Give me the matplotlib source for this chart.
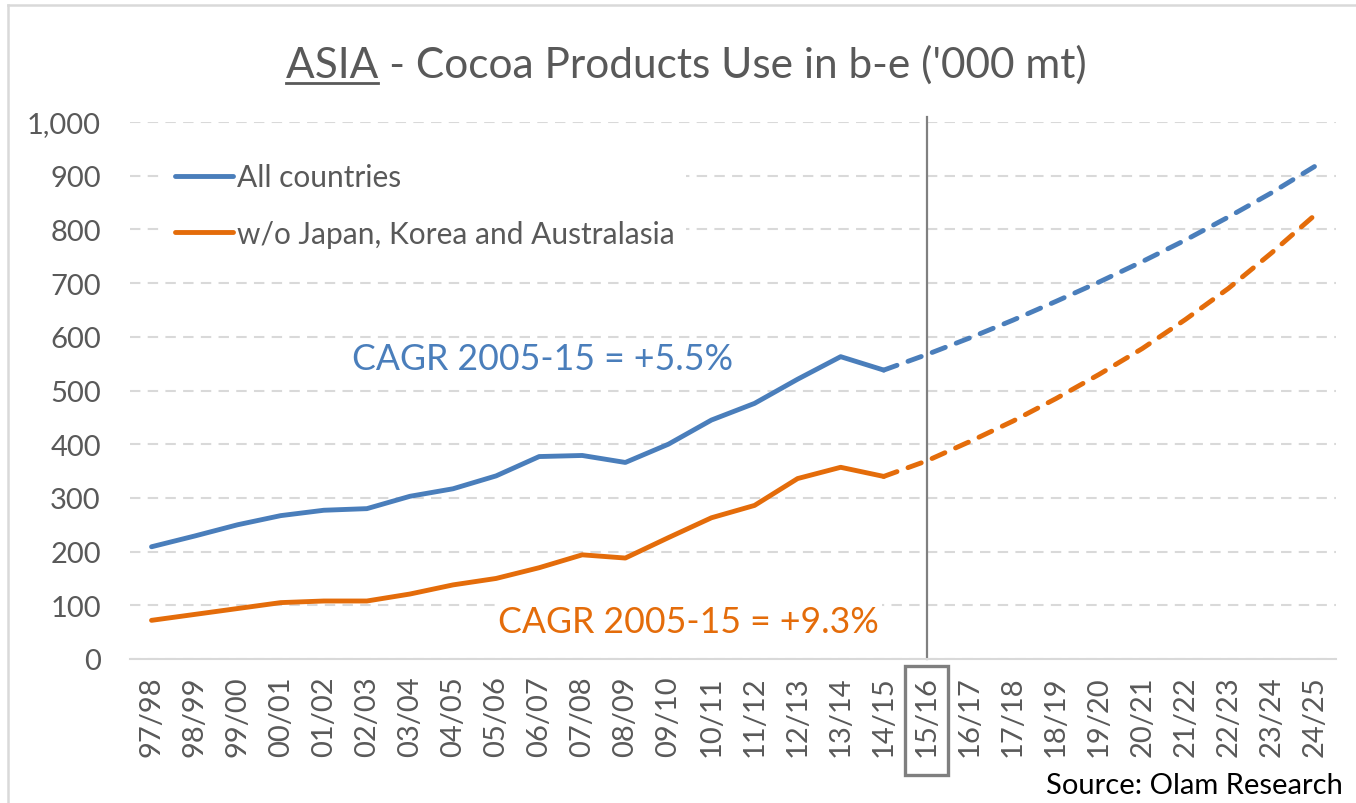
import matplotlib
matplotlib.use("Agg")
import matplotlib.pyplot as plt
from matplotlib.patches import Rectangle
from matplotlib.lines import Line2D

# --- data ---
seasons = ["97/98", "98/99", "99/00", "00/01", "01/02", "02/03", "03/04", "04/05",
           "05/06", "06/07", "07/08", "08/09", "09/10", "10/11", "11/12", "12/13",
           "13/14", "14/15", "15/16", "16/17", "17/18", "18/19", "19/20", "20/21",
           "21/22", "22/23", "23/24", "24/25"]
all_countries = [209, 229, 250, 267, 277, 280, 303, 317, 341, 377, 379, 366, 400, 445,
                 476, 521, 563, 538, 567, 598, 631, 666, 702, 740, 780, 823, 868, 917]
without_jka = [72, 83, 94, 105, 108, 108, 121, 138, 150, 170, 194, 188, 226, 263,
               286, 336, 357, 340, 369, 405, 443, 485, 530, 578, 632, 690, 756, 826]
last_actual = "14/15"
marked_season = "15/16"
yticks = [0, 100, 200, 300, 400, 500, 600, 700, 800, 900, 1000]

BLUE = "#4a7ebb"
ORANGE = "#e46c0a"
GREY_TXT = "#595959"
FONT = "Lato"
LW = 3.5

plt.rcParams["font.family"] = [FONT, "DejaVu Sans"]

fig = plt.figure(figsize=(13.56, 8.04), dpi=100)
W, H = 1356, 804
ax = fig.add_axes([130 / W, 1 - 660 / H, 1206 / W, 537 / H])

x = list(range(len(seasons)))
split = seasons.index(last_actual)

# solid history, dashed forecast
ax.plot(x[:split + 1], all_countries[:split + 1], color=BLUE, lw=LW,
        solid_capstyle="round", solid_joinstyle="round", label="All countries", zorder=3)
ax.plot(x[split:], all_countries[split:], color=BLUE, lw=LW, ls=(0, (2.9, 2.4)),
        dash_capstyle="round", zorder=3)
ax.plot(x[:split + 1], without_jka[:split + 1], color=ORANGE, lw=LW,
        solid_capstyle="round", solid_joinstyle="round",
        label="w/o Japan, Korea and Australasia", zorder=3)
ax.plot(x[split:], without_jka[split:], color=ORANGE, lw=LW, ls=(0, (2.9, 2.4)),
        dash_capstyle="round", zorder=3)

ax.set_xlim(-0.5, len(seasons) - 0.5)
ax.set_ylim(0, 1000)
ax.set_yticks(yticks)
ax.set_yticklabels([f"{v:,}" for v in yticks])
ax.set_xticks(x)
ax.set_xticklabels(seasons, rotation=90)
ax.tick_params(axis="both", length=0, labelsize=21, colors=GREY_TXT)
ax.tick_params(axis="y", pad=21)
ax.tick_params(axis="x", pad=11.5)

for s in ["top", "right", "left"]:
    ax.spines[s].set_visible(False)
ax.spines["bottom"].set_color("#d9d9d9")
ax.spines["bottom"].set_linewidth(1.5)

ax.yaxis.grid(True, color="#d9d9d9", lw=1.5, ls=(0, (5, 3.5)))
ax.set_axisbelow(True)

# forecast start marker
xm = seasons.index(marked_season)
ax.axvline(xm, ymin=0, ymax=1.01, color="#808080", lw=1.6, clip_on=False, zorder=2)
ax.add_patch(Rectangle((xm - 0.5, -0.216), 1.0, 0.203,
                       transform=ax.get_xaxis_transform(), fill=False,
                       edgecolor="#7f7f7f", lw=2.4, clip_on=False))

leg = ax.legend(loc="upper left", bbox_to_anchor=(0.027, 0.945), frameon=True,
                fontsize=21.5, handlelength=1.95, handletextpad=0.13, labelspacing=0.95,
                borderpad=0.4, borderaxespad=0)
leg.get_frame().set_facecolor("white")
leg.get_frame().set_edgecolor("none")
leg.get_frame().set_alpha(1)
for t in leg.get_texts():
    t.set_color(GREY_TXT)

ax.text(4.65, 559, "CAGR 2005-15 = +5.5%", color=BLUE, fontsize=25.7, va="center",
        ha="left", bbox=dict(facecolor="white", edgecolor="none", pad=2))
ax.text(8.05, 69, "CAGR 2005-15 = +9.3%", color=ORANGE, fontsize=25.7, va="center",
        ha="left", bbox=dict(facecolor="white", edgecolor="none", pad=2))

# title with underlined ASIA
title_y = 1 - 78 / H
title = fig.text(686 / W, title_y, "ASIA - Cocoa Products Use in b-e ('000 mt)",
                 ha="center", va="baseline", fontsize=30.5, color=GREY_TXT)
fig.canvas.draw()
r = fig.canvas.get_renderer()
bb = title.get_window_extent(r)
tmp = fig.text(0, 0, "ASIA", fontsize=30.5)
w_asia = tmp.get_window_extent(r).width
tmp.remove()
fig.add_artist(Line2D([bb.x0 / W, (bb.x0 + w_asia) / W], [1 - 84 / H, 1 - 84 / H],
                      color=GREY_TXT, lw=2))

fig.text(1343 / W, 1 - 786 / H, "Source: Olam Research", ha="right", va="center",
         fontsize=21, color="black")

# chart frame
fig.add_artist(Line2D([8 / W, 8 / W], [0, 1 - 6 / H], color="#d9d9d9", lw=1.8))
fig.add_artist(Line2D([8 / W, 1], [1 - 6 / H, 1 - 6 / H], color="#d9d9d9", lw=1.8))

fig.savefig("out.png", dpi=100, facecolor="white")
